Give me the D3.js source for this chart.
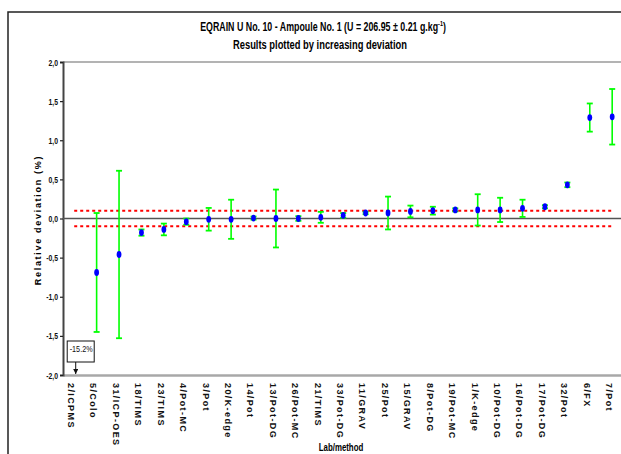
<!DOCTYPE html>
<html lang="en">
<head>
    <meta charset="UTF-8">
    <title>EQRAIN U No. 10</title>
    <script src="https://d3js.org/d3.v7.min.js"></script>
    <style>
        body { margin: 0; background: #fff; }
        svg { display: block; }
        .narrow { font-family: "Liberation Sans Narrow", "Arial Narrow", "Liberation Sans", Arial, sans-serif; font-weight: bold; }
        .lab { font-family: "Liberation Sans", Arial, sans-serif; font-weight: bold; font-size: 9px; letter-spacing: 1.4px; }
    </style>
</head>
<body>
<svg width="621" height="454"></svg>
<script>
    // lab/method, sorted by increasing deviation
    const labs = ["2/ICPMS", "5/Colo", "31/ICP-OES", "18/TIMS", "23/TIMS", "4/Pot-MC", "3/Pot",
        "20/K-edge", "14/Pot", "13/Pot-DG", "26/Pot-MC", "21/TIMS", "33/Pot-DG", "11/GRAV",
        "25/Pot", "15/GRAV", "8/Pot-DG", "19/Pot-MC", "1/K-edge", "10/Pot-DG", "16/Pot-DG",
        "17/Pot-DG", "32/Pot", "6/FX", "7/Pot"];
    // relative deviation (%)
    const devs = [-15.2, -0.69, -0.46, -0.18, -0.14, -0.04, -0.01, -0.01, 0.005, 0.0, 0.0, 0.015,
        0.04, 0.07, 0.07, 0.09, 0.10, 0.11, 0.11, 0.11, 0.13, 0.15, 0.43, 1.29, 1.30];
    // half-width of error bars (%)
    const errs = [0, 0.76, 1.07, 0.04, 0.075, 0.04, 0.145, 0.25, 0.02, 0.37, 0.03, 0.07, 0.03,
        0.015, 0.21, 0.075, 0.05, 0.02, 0.2, 0.155, 0.11, 0.02, 0.03, 0.18, 0.355];
    const yTicks = [-2, -1.5, -1, -0.5, 0, 0.5, 1, 1.5, 2];
    const limit = 0.1;

    const data = labs.map((lab, i) => ({ lab: lab, v: devs[i], e: errs[i] }));

    const svg = d3.select("svg");
    const pLeft = 63, pRight = 623.4, pTop = 62, pBottom = 375;
    const squeeze = 0.72; // no narrow font installed, so squeeze horizontally

    const x = d3.scaleBand().domain(labs).range([pLeft, pRight]);
    const y = d3.scaleLinear().domain([-2, 2]).range([pBottom, pTop]);
    const cx = d => x(d) + x.bandwidth() / 2;
    const fmt = d => d3.format(".1f")(d).replace(".", ",").replace("\u2212", "-");

    // outer frame
    svg.append("path").attr("d", "M8,454V12H621")
        .attr("fill", "none").attr("stroke", "#222").attr("stroke-width", 1.5);

    // title
    const t1 = svg.append("text").attr("class", "narrow")
        .attr("transform", `translate(323,31) scale(0.68,1)`)
        .attr("text-anchor", "middle").style("font-size", "13px");
    t1.append("tspan").text("EQRAIN U No. 10 - Ampoule No. 1 (U = 206.95 \u00b1 0.21 g.kg");
    t1.append("tspan").attr("dy", -5).style("font-size", "8px").text("-1");
    t1.append("tspan").attr("dy", 5).text(")");
    svg.append("text").attr("class", "narrow")
        .attr("transform", `translate(320,49) scale(${squeeze},1)`)
        .attr("text-anchor", "middle").style("font-size", "13px")
        .text("Results plotted by increasing deviation");

    // plot top edge
    svg.append("line").attr("x1", pLeft).attr("x2", 621).attr("y1", pTop).attr("y2", pTop)
        .attr("stroke", "#9a9a9a").attr("stroke-width", 1.5);

    // x axis
    const xAxis = svg.append("g").attr("transform", `translate(0,${pBottom})`)
        .call(d3.axisBottom(x).tickSize(0));
    xAxis.select(".domain").attr("stroke", "#a8a8a8").attr("stroke-width", 2.5);
    xAxis.selectAll("text").attr("class", "lab").attr("fill", "#111")
        .attr("transform", "rotate(90)").attr("x", 8).attr("y", 3).attr("dy", "0.35em")
        .style("text-anchor", "start");

    // y axis
    const yAxis = svg.append("g").attr("transform", `translate(${pLeft},0)`)
        .call(d3.axisLeft(y).tickValues(yTicks).tickSize(3).tickFormat(fmt));
    yAxis.select(".domain").attr("stroke", "#444").attr("stroke-width", 2);
    yAxis.selectAll(".tick line").attr("stroke", "#222").attr("stroke-width", 1.2);
    yAxis.selectAll("text").attr("class", "narrow").style("font-size", "9.5px").attr("fill", "#111")
        .attr("x", -5 / squeeze).attr("transform", `scale(${squeeze},1)`);

    svg.append("text").attr("class", "lab").attr("transform", "translate(41,220) rotate(-90)")
        .attr("text-anchor", "middle").style("letter-spacing", "1.7px").text("Relative deviation (%)");
    svg.append("text").attr("class", "narrow")
        .attr("transform", `translate(341,451) scale(0.75,1)`)
        .attr("text-anchor", "middle").style("font-size", "10.5px").text("Lab/method");

    // zero line
    svg.append("line").attr("x1", pLeft).attr("x2", 621).attr("y1", y(0)).attr("y2", y(0))
        .attr("stroke", "#555").attr("stroke-width", 1.5);

    // +/- limit lines
    [limit, -limit].forEach(l => {
        svg.append("line").attr("x1", cx(labs[0])).attr("x2", cx(labs[labs.length - 1]))
            .attr("y1", y(l)).attr("y2", y(l))
            .attr("stroke", "#ff0000").attr("stroke-width", 2).attr("stroke-dasharray", "3,3");
    });

    const inRange = data.filter(d => d.v >= -2 && d.v <= 2);

    // error bars
    const eb = svg.append("g").attr("stroke", "#00ff00");
    inRange.forEach(d => {
        const px = cx(d.lab);
        eb.append("line").attr("x1", px).attr("x2", px).attr("y1", y(d.v - d.e)).attr("y2", y(d.v + d.e))
            .attr("stroke-width", 1.6);
        [d.v - d.e, d.v + d.e].forEach(v => {
            eb.append("line").attr("x1", px - 3).attr("x2", px + 3).attr("y1", y(v)).attr("y2", y(v))
                .attr("stroke-width", 1.8);
        });
    });

    // points
    svg.append("g").selectAll("ellipse").data(inRange).join("ellipse")
        .attr("cx", d => cx(d.lab)).attr("cy", d => y(d.v))
        .attr("rx", 2.4).attr("ry", 3.4).attr("fill", "#0000ff");

    // off-scale annotation
    svg.append("defs").append("marker").attr("id", "arr").attr("viewBox", "0 0 6 6")
        .attr("refX", 6).attr("refY", 3).attr("markerWidth", 5).attr("markerHeight", 5)
        .attr("orient", "auto").append("path").attr("d", "M0,0L6,3L0,6Z").attr("fill", "#111");
    data.filter(d => d.v < -2).forEach(d => {
        const px = cx(d.lab);
        svg.append("rect").attr("x", px - 7).attr("y", 341).attr("width", 27).attr("height", 21)
            .attr("fill", "#fff").attr("stroke", "#111").attr("stroke-width", 1);
        svg.append("text").attr("class", "narrow")
            .attr("transform", `translate(${px - 4.5},352) scale(0.85,1)`)
            .style("font-size", "8.5px").style("font-weight", "normal").attr("fill", "#111")
            .text(d3.format(".1f")(d.v).replace("\u2212", "-") + "%");
        svg.append("line").attr("x1", px + 1.5).attr("x2", px + 1.5).attr("y1", 362).attr("y2", pBottom - 1)
            .attr("stroke", "#111").attr("stroke-width", 1).attr("marker-end", "url(#arr)");
    });
</script>
</body>
</html>
